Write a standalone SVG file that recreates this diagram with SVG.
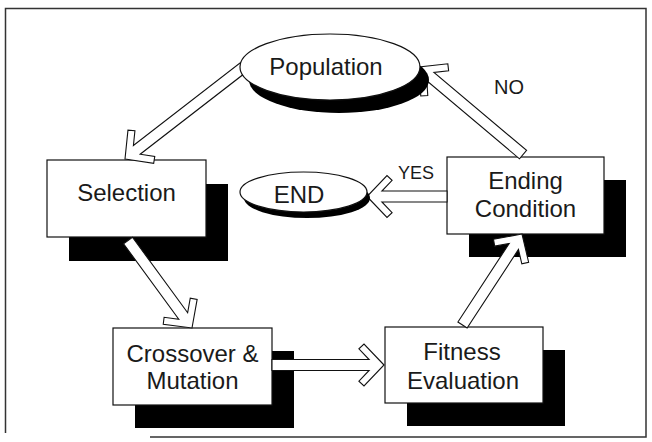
<svg xmlns="http://www.w3.org/2000/svg" width="652" height="442" viewBox="0 0 652 442">
  <style>
    .box { fill: #fff; stroke: #111; stroke-width: 1.2; }
    .shadow { fill: #000; stroke: none; }
    .arrow { fill: #fff; stroke: #111; stroke-width: 1.1; stroke-linejoin: miter; }
    .lbl { font-family: "Liberation Sans", Arial, sans-serif; font-size: 24px; fill: #1a1a1a; text-anchor: middle; }
    .tag { font-family: "Liberation Sans", Arial, sans-serif; fill: #1a1a1a; }
    .frame { fill: none; stroke: #333; stroke-width: 1.5; }
  </style>
  <rect x="0" y="0" width="652" height="442" fill="#fff"/>
  <path class="frame" d="M150,437 H646 V8.5 H5.5 V433"/>

  <g id="selection">
    <rect class="shadow" x="69" y="184" width="159" height="77"/>
    <rect class="box" x="47" y="160" width="159" height="77"/>
    <text class="lbl" x="126.5" y="201">Selection</text>
  </g>

  <g id="ending-condition">
    <rect class="shadow" x="469" y="180" width="157" height="77"/>
    <rect class="box" x="447" y="157" width="157" height="77"/>
    <text class="lbl" x="525.5" y="189">Ending</text>
    <text class="lbl" x="525.5" y="217">Condition</text>
  </g>

  <g id="crossover-mutation">
    <rect class="shadow" x="135" y="351" width="159" height="77"/>
    <rect class="box" x="113" y="328" width="159" height="77"/>
    <text class="lbl" x="192.5" y="362">Crossover &amp;</text>
    <text class="lbl" x="192.5" y="389">Mutation</text>
  </g>

  <g id="fitness-evaluation">
    <rect class="shadow" x="407" y="350" width="158" height="76"/>
    <rect class="box" x="385" y="327" width="158" height="76"/>
    <text class="lbl" x="462" y="360">Fitness</text>
    <text class="lbl" x="463" y="389">Evaluation</text>
  </g>

  <g id="connectors">
    <polygon class="arrow" transform="translate(125,159) rotate(142.26)" points="0,0 -20,-21 -25.1,-16.2 -14.9,-5.5 -150,-5.5 -150,5.5 -14.9,5.5 -25.1,16.2 -20,21"/>
    <polygon class="arrow" transform="translate(192,328) rotate(53.82)" points="0,0 -20,-21 -25.1,-16.2 -14.9,-5.5 -108.4,-5.5 -108.4,5.5 -14.9,5.5 -25.1,16.2 -20,21"/>
    <polygon class="arrow" transform="translate(384,365)" points="0,0 -20,-21 -25.1,-16.2 -14.9,-5.5 -112,-5.5 -112,5.5 -14.9,5.5 -25.1,16.2 -20,21"/>
    <polygon class="arrow" transform="translate(522,234) rotate(-56.82)" points="0,0 -20,-21 -25.1,-16.2 -14.9,-5.5 -108.7,-5.5 -108.7,5.5 -14.9,5.5 -25.1,16.2 -20,21"/>
    <polygon class="arrow" transform="translate(419,67) rotate(-139.9)" points="0,0 -20,-21 -25.1,-16.2 -14.9,-5.5 -136,-5.5 -136,5.5 -14.9,5.5 -25.1,16.2 -20,21"/>
    <polygon class="arrow" transform="translate(367,196.5) rotate(180)" points="0,0 -20,-21 -25.1,-16.2 -14.9,-5.5 -80,-5.5 -80,5.5 -14.9,5.5 -25.1,16.2 -20,21"/>
    <text class="tag" x="494" y="94" font-size="20">NO</text>
    <text class="tag" x="398" y="179" font-size="18">YES</text>
  </g>

  <g id="population">
    <ellipse class="shadow" cx="339" cy="80" rx="90" ry="33"/>
    <ellipse class="box" cx="330" cy="67" rx="90" ry="33"/>
    <text class="lbl" x="326" y="75">Population</text>
  </g>

  <g id="end">
    <ellipse class="shadow" cx="307" cy="198" rx="63" ry="20"/>
    <ellipse class="box" cx="303.5" cy="192" rx="63.5" ry="20"/>
    <text class="lbl" x="299" y="203" font-size="23">END</text>
  </g>
</svg>
